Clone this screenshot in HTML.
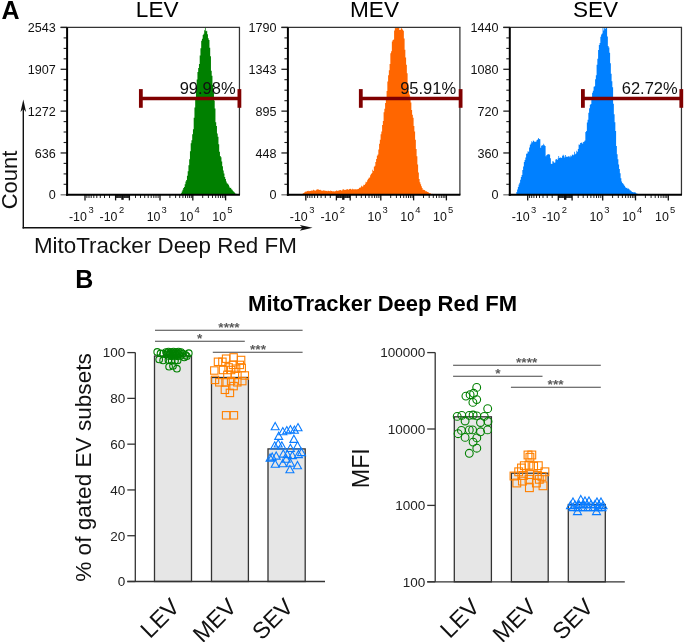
<!DOCTYPE html>
<html><head><meta charset="utf-8"><style>
html,body{margin:0;padding:0;background:#fff;}
svg{display:block;will-change:transform;}
</style></head><body>
<svg width="685" height="642" viewBox="0 0 685 642" font-family="&quot;Liberation Sans&quot;, sans-serif">
<rect width="685" height="642" fill="#fff"/>
<text x="1.5" y="19.3" font-size="25" font-weight="bold" fill="#000">A</text>
<text x="157.2" y="17" font-size="22.6" text-anchor="middle" fill="#000">LEV</text>
<path d="M180.20,194.8 V194.35 H180.95 V193.26 H181.70 V191.56 H182.45 V189.73 H183.20 V188.02 H183.95 V186.97 H184.70 V184.25 H185.45 V181.42 H186.20 V179.89 H186.95 V175.72 H187.70 V171.25 H188.45 V165.14 H189.20 V159.18 H189.95 V151.18 H190.70 V143.34 H191.45 V140.27 H192.20 V134.23 H192.95 V129.25 H193.70 V117.84 H194.45 V107.62 H195.20 V100.00 H195.95 V88.23 H196.70 V79.51 H197.45 V71.99 H198.20 V68.11 H198.95 V63.89 H199.70 V55.55 H200.45 V48.22 H201.20 V40.66 H201.95 V38.85 H202.70 V35.11 H203.45 V33.79 H204.20 V30.31 H204.95 V27.60 H205.70 V31.37 H206.45 V30.87 H207.20 V34.29 H207.95 V38.15 H208.70 V39.93 H209.45 V47.67 H210.20 V56.17 H210.95 V70.73 H211.70 V75.82 H212.45 V85.11 H213.20 V92.88 H213.95 V100.49 H214.70 V108.58 H215.45 V122.18 H216.20 V126.04 H216.95 V133.42 H217.70 V136.84 H218.45 V144.15 H219.20 V151.78 H219.95 V156.02 H220.70 V157.25 H221.45 V161.41 H222.20 V166.36 H222.95 V170.48 H223.70 V173.46 H224.45 V177.02 H225.20 V178.89 H225.95 V181.42 H226.70 V183.21 H227.45 V183.81 H228.20 V184.81 H228.95 V186.40 H229.70 V187.97 H230.45 V187.73 H231.20 V189.29 H231.95 V189.81 H232.70 V190.98 H233.45 V191.80 H234.20 V192.56 H234.95 V193.40 H235.70 V193.65 H236.45 V194.27 H237.20 V194.57 H237.90 V194.8 Z" fill="#008000"/>
<line x1="60.599999999999994" y1="27.45" x2="240.04999999999998" y2="27.45" stroke="#333" stroke-width="1.25"/>
<line x1="239.45" y1="27.45" x2="239.45" y2="194.8" stroke="#333" stroke-width="1.25"/>
<line x1="60.599999999999994" y1="27.45" x2="67.1" y2="27.45" stroke="#222" stroke-width="1.3"/>
<text x="55.8" y="31.9" font-size="12.6" text-anchor="end" fill="#111">2543</text>
<line x1="63.599999999999994" y1="37.9" x2="67.1" y2="37.9" stroke="#222" stroke-width="1.1"/>
<line x1="63.599999999999994" y1="48.4" x2="67.1" y2="48.4" stroke="#222" stroke-width="1.1"/>
<line x1="63.599999999999994" y1="58.8" x2="67.1" y2="58.8" stroke="#222" stroke-width="1.1"/>
<line x1="60.599999999999994" y1="69.29" x2="67.1" y2="69.29" stroke="#222" stroke-width="1.3"/>
<text x="55.8" y="73.8" font-size="12.6" text-anchor="end" fill="#111">1907</text>
<line x1="63.599999999999994" y1="79.7" x2="67.1" y2="79.7" stroke="#222" stroke-width="1.1"/>
<line x1="63.599999999999994" y1="90.2" x2="67.1" y2="90.2" stroke="#222" stroke-width="1.1"/>
<line x1="63.599999999999994" y1="100.7" x2="67.1" y2="100.7" stroke="#222" stroke-width="1.1"/>
<line x1="60.599999999999994" y1="111.13" x2="67.1" y2="111.13" stroke="#222" stroke-width="1.3"/>
<text x="55.8" y="115.6" font-size="12.6" text-anchor="end" fill="#111">1272</text>
<line x1="63.599999999999994" y1="121.6" x2="67.1" y2="121.6" stroke="#222" stroke-width="1.1"/>
<line x1="63.599999999999994" y1="132.0" x2="67.1" y2="132.0" stroke="#222" stroke-width="1.1"/>
<line x1="63.599999999999994" y1="142.5" x2="67.1" y2="142.5" stroke="#222" stroke-width="1.1"/>
<line x1="60.599999999999994" y1="152.96" x2="67.1" y2="152.96" stroke="#222" stroke-width="1.3"/>
<text x="55.8" y="157.5" font-size="12.6" text-anchor="end" fill="#111">636</text>
<line x1="63.599999999999994" y1="163.4" x2="67.1" y2="163.4" stroke="#222" stroke-width="1.1"/>
<line x1="63.599999999999994" y1="173.9" x2="67.1" y2="173.9" stroke="#222" stroke-width="1.1"/>
<line x1="63.599999999999994" y1="184.3" x2="67.1" y2="184.3" stroke="#222" stroke-width="1.1"/>
<line x1="60.599999999999994" y1="194.80" x2="67.1" y2="194.80" stroke="#777" stroke-width="1.3"/>
<text x="55.8" y="199.3" font-size="12.6" text-anchor="end" fill="#111">0</text>
<line x1="109.5" y1="194.8" x2="109.5" y2="198.0" stroke="#222" stroke-width="1"/>
<line x1="104.5" y1="194.8" x2="104.5" y2="198.0" stroke="#222" stroke-width="1"/>
<line x1="100.3" y1="194.8" x2="100.3" y2="198.0" stroke="#222" stroke-width="1"/>
<line x1="96.8" y1="194.8" x2="96.8" y2="198.0" stroke="#222" stroke-width="1"/>
<line x1="93.8" y1="194.8" x2="93.8" y2="198.0" stroke="#222" stroke-width="1"/>
<line x1="91.2" y1="194.8" x2="91.2" y2="198.0" stroke="#222" stroke-width="1"/>
<line x1="89.0" y1="194.8" x2="89.0" y2="198.0" stroke="#222" stroke-width="1"/>
<line x1="86.9" y1="194.8" x2="86.9" y2="198.0" stroke="#222" stroke-width="1"/>
<line x1="135.5" y1="194.8" x2="135.5" y2="198.0" stroke="#222" stroke-width="1"/>
<line x1="140.5" y1="194.8" x2="140.5" y2="198.0" stroke="#222" stroke-width="1"/>
<line x1="144.7" y1="194.8" x2="144.7" y2="198.0" stroke="#222" stroke-width="1"/>
<line x1="148.2" y1="194.8" x2="148.2" y2="198.0" stroke="#222" stroke-width="1"/>
<line x1="151.2" y1="194.8" x2="151.2" y2="198.0" stroke="#222" stroke-width="1"/>
<line x1="153.8" y1="194.8" x2="153.8" y2="198.0" stroke="#222" stroke-width="1"/>
<line x1="156.0" y1="194.8" x2="156.0" y2="198.0" stroke="#222" stroke-width="1"/>
<line x1="158.1" y1="194.8" x2="158.1" y2="198.0" stroke="#222" stroke-width="1"/>
<line x1="169.9" y1="194.8" x2="169.9" y2="198.0" stroke="#222" stroke-width="1"/>
<line x1="175.6" y1="194.8" x2="175.6" y2="198.0" stroke="#222" stroke-width="1"/>
<line x1="179.7" y1="194.8" x2="179.7" y2="198.0" stroke="#222" stroke-width="1"/>
<line x1="182.9" y1="194.8" x2="182.9" y2="198.0" stroke="#222" stroke-width="1"/>
<line x1="185.5" y1="194.8" x2="185.5" y2="198.0" stroke="#222" stroke-width="1"/>
<line x1="187.7" y1="194.8" x2="187.7" y2="198.0" stroke="#222" stroke-width="1"/>
<line x1="189.6" y1="194.8" x2="189.6" y2="198.0" stroke="#222" stroke-width="1"/>
<line x1="191.3" y1="194.8" x2="191.3" y2="198.0" stroke="#222" stroke-width="1"/>
<line x1="202.7" y1="194.8" x2="202.7" y2="198.0" stroke="#222" stroke-width="1"/>
<line x1="208.4" y1="194.8" x2="208.4" y2="198.0" stroke="#222" stroke-width="1"/>
<line x1="212.5" y1="194.8" x2="212.5" y2="198.0" stroke="#222" stroke-width="1"/>
<line x1="215.7" y1="194.8" x2="215.7" y2="198.0" stroke="#222" stroke-width="1"/>
<line x1="218.3" y1="194.8" x2="218.3" y2="198.0" stroke="#222" stroke-width="1"/>
<line x1="220.5" y1="194.8" x2="220.5" y2="198.0" stroke="#222" stroke-width="1"/>
<line x1="222.4" y1="194.8" x2="222.4" y2="198.0" stroke="#222" stroke-width="1"/>
<line x1="224.1" y1="194.8" x2="224.1" y2="198.0" stroke="#222" stroke-width="1"/>
<line x1="121.1" y1="194.8" x2="121.1" y2="198.0" stroke="#222" stroke-width="1"/>
<line x1="120.4" y1="194.8" x2="120.4" y2="198.0" stroke="#222" stroke-width="1"/>
<line x1="119.7" y1="194.8" x2="119.7" y2="198.0" stroke="#222" stroke-width="1"/>
<line x1="119.0" y1="194.8" x2="119.0" y2="198.0" stroke="#222" stroke-width="1"/>
<line x1="118.3" y1="194.8" x2="118.3" y2="198.0" stroke="#222" stroke-width="1"/>
<line x1="117.6" y1="194.8" x2="117.6" y2="198.0" stroke="#222" stroke-width="1"/>
<line x1="116.9" y1="194.8" x2="116.9" y2="198.0" stroke="#222" stroke-width="1"/>
<line x1="116.3" y1="194.8" x2="116.3" y2="198.0" stroke="#222" stroke-width="1"/>
<line x1="123.9" y1="194.8" x2="123.9" y2="198.0" stroke="#222" stroke-width="1"/>
<line x1="124.6" y1="194.8" x2="124.6" y2="198.0" stroke="#222" stroke-width="1"/>
<line x1="125.3" y1="194.8" x2="125.3" y2="198.0" stroke="#222" stroke-width="1"/>
<line x1="126.0" y1="194.8" x2="126.0" y2="198.0" stroke="#222" stroke-width="1"/>
<line x1="126.7" y1="194.8" x2="126.7" y2="198.0" stroke="#222" stroke-width="1"/>
<line x1="127.4" y1="194.8" x2="127.4" y2="198.0" stroke="#222" stroke-width="1"/>
<line x1="128.1" y1="194.8" x2="128.1" y2="198.0" stroke="#222" stroke-width="1"/>
<line x1="128.7" y1="194.8" x2="128.7" y2="198.0" stroke="#222" stroke-width="1"/>
<line x1="85.0" y1="194.8" x2="85.0" y2="200.4" stroke="#111" stroke-width="1.3"/>
<line x1="115.6" y1="194.8" x2="115.6" y2="200.4" stroke="#111" stroke-width="1.3"/>
<line x1="122.5" y1="194.8" x2="122.5" y2="199.8" stroke="#111" stroke-width="2.4"/>
<line x1="129.4" y1="194.8" x2="129.4" y2="200.4" stroke="#111" stroke-width="1.3"/>
<line x1="160.0" y1="194.8" x2="160.0" y2="200.4" stroke="#111" stroke-width="1.3"/>
<line x1="192.8" y1="194.8" x2="192.8" y2="200.4" stroke="#111" stroke-width="1.3"/>
<line x1="225.6" y1="194.8" x2="225.6" y2="200.4" stroke="#111" stroke-width="1.3"/>
<text x="86.9" y="221.4" font-size="12.4" text-anchor="end" fill="#111">-10</text>
<text x="88.4" y="212.9" font-size="9.4" fill="#111">3</text>
<text x="117.5" y="221.4" font-size="12.4" text-anchor="end" fill="#111">-10</text>
<text x="119.0" y="212.9" font-size="9.4" fill="#111">2</text>
<text x="160.5" y="221.4" font-size="12.4" text-anchor="end" fill="#111">10</text>
<text x="161.6" y="212.9" font-size="9.4" fill="#111">3</text>
<text x="193.3" y="221.4" font-size="12.4" text-anchor="end" fill="#111">10</text>
<text x="194.4" y="212.9" font-size="9.4" fill="#111">4</text>
<text x="226.1" y="221.4" font-size="12.4" text-anchor="end" fill="#111">10</text>
<text x="227.2" y="212.9" font-size="9.4" fill="#111">5</text>
<line x1="67.1" y1="27.45" x2="67.1" y2="195.8" stroke="#000" stroke-width="2"/>
<line x1="66.1" y1="194.8" x2="239.95" y2="194.8" stroke="#000" stroke-width="2"/>
<line x1="140.85" y1="98.5" x2="239.4" y2="98.5" stroke="#800000" stroke-width="3.6"/>
<line x1="140.85" y1="89.1" x2="140.85" y2="107.8" stroke="#800000" stroke-width="3.8"/>
<line x1="239.4" y1="89.1" x2="239.4" y2="107.8" stroke="#800000" stroke-width="3.8"/>
<text x="235.6" y="94.3" font-size="16.5" text-anchor="end" fill="#111">99.98%</text>
<text x="374.5" y="17" font-size="22.6" text-anchor="middle" fill="#000">MEV</text>
<path d="M302.60,194.8 V193.40 H303.35 V193.04 H304.10 V192.38 H304.85 V191.82 H305.60 V191.39 H306.35 V191.41 H307.10 V190.96 H307.85 V190.71 H308.60 V191.13 H309.35 V191.00 H310.10 V191.03 H310.85 V190.42 H311.60 V190.63 H312.35 V190.50 H313.10 V189.87 H313.85 V190.49 H314.60 V190.29 H315.35 V190.76 H316.10 V189.63 H316.85 V189.18 H317.60 V189.57 H318.35 V189.42 H319.10 V189.96 H319.85 V189.75 H320.60 V190.24 H321.35 V190.80 H322.10 V190.78 H322.85 V190.62 H323.60 V190.24 H324.35 V190.81 H325.10 V190.72 H325.85 V190.98 H326.60 V190.85 H327.35 V191.19 H328.10 V190.84 H328.85 V190.97 H329.60 V191.16 H330.35 V190.62 H331.10 V190.89 H331.85 V190.90 H332.60 V191.75 H333.35 V191.12 H334.10 V191.40 H334.85 V191.31 H335.60 V190.89 H336.35 V190.33 H337.10 V191.06 H337.85 V190.46 H338.60 V190.73 H339.35 V189.88 H340.10 V190.06 H340.85 V190.58 H341.60 V190.56 H342.35 V189.45 H343.10 V189.34 H343.85 V189.74 H344.60 V189.94 H345.35 V189.63 H346.10 V189.59 H346.85 V188.99 H347.60 V189.52 H348.35 V189.65 H349.10 V189.06 H349.85 V188.70 H350.60 V189.01 H351.35 V189.65 H352.10 V188.69 H352.85 V189.38 H353.60 V189.06 H354.35 V189.44 H355.10 V189.28 H355.85 V189.19 H356.60 V189.61 H357.35 V188.97 H358.10 V189.08 H358.85 V188.09 H359.60 V187.57 H360.35 V187.59 H361.10 V185.71 H361.85 V186.66 H362.60 V186.30 H363.35 V184.83 H364.10 V184.98 H364.85 V183.66 H365.60 V181.80 H366.35 V182.32 H367.10 V180.30 H367.85 V179.04 H368.60 V177.74 H369.35 V177.44 H370.10 V175.30 H370.85 V173.88 H371.60 V172.91 H372.35 V169.79 H373.10 V170.93 H373.85 V166.67 H374.60 V165.78 H375.35 V162.05 H376.10 V158.93 H376.85 V155.72 H377.60 V154.46 H378.35 V149.39 H379.10 V143.81 H379.85 V139.84 H380.60 V134.36 H381.35 V131.49 H382.10 V125.06 H382.85 V121.12 H383.60 V112.34 H384.35 V108.80 H385.10 V102.88 H385.85 V97.35 H386.60 V91.11 H387.35 V81.41 H388.10 V75.18 H388.85 V70.19 H389.60 V64.11 H390.35 V53.28 H391.10 V51.29 H391.85 V41.50 H392.60 V40.03 H393.35 V39.41 H394.10 V30.58 H394.85 V27.30 H395.60 V28.28 H396.35 V27.87 H397.10 V27.81 H397.85 V27.30 H398.60 V27.60 H399.35 V30.12 H400.10 V29.84 H400.85 V27.56 H401.60 V28.86 H402.35 V29.76 H403.10 V30.72 H403.85 V38.59 H404.60 V49.68 H405.35 V57.43 H406.10 V64.69 H406.85 V73.33 H407.60 V83.59 H408.35 V90.96 H409.10 V94.48 H409.85 V96.81 H410.60 V102.45 H411.35 V109.91 H412.10 V114.67 H412.85 V117.74 H413.60 V125.95 H414.35 V131.51 H415.10 V139.83 H415.85 V149.11 H416.60 V156.23 H417.35 V164.51 H418.10 V172.39 H418.85 V178.89 H419.60 V182.21 H420.35 V184.16 H421.10 V186.20 H421.85 V187.92 H422.60 V189.76 H423.35 V189.72 H424.10 V189.98 H424.85 V190.85 H425.60 V191.60 H426.35 V191.19 H427.10 V192.12 H427.85 V192.10 H428.60 V192.96 H429.35 V193.19 H430.10 V193.36 H430.85 V193.96 H431.60 V193.80 H432.35 V194.07 H433.10 V194.63 H433.85 V194.69 H434.40 V194.8 Z" fill="#ff6600"/>
<line x1="281.4" y1="27.45" x2="460.5" y2="27.45" stroke="#333" stroke-width="1.25"/>
<line x1="459.9" y1="27.45" x2="459.9" y2="194.8" stroke="#333" stroke-width="1.25"/>
<line x1="281.4" y1="27.45" x2="287.9" y2="27.45" stroke="#222" stroke-width="1.3"/>
<text x="276.59999999999997" y="31.9" font-size="12.6" text-anchor="end" fill="#111">1790</text>
<line x1="284.4" y1="37.9" x2="287.9" y2="37.9" stroke="#222" stroke-width="1.1"/>
<line x1="284.4" y1="48.4" x2="287.9" y2="48.4" stroke="#222" stroke-width="1.1"/>
<line x1="284.4" y1="58.8" x2="287.9" y2="58.8" stroke="#222" stroke-width="1.1"/>
<line x1="281.4" y1="69.29" x2="287.9" y2="69.29" stroke="#222" stroke-width="1.3"/>
<text x="276.59999999999997" y="73.8" font-size="12.6" text-anchor="end" fill="#111">1343</text>
<line x1="284.4" y1="79.7" x2="287.9" y2="79.7" stroke="#222" stroke-width="1.1"/>
<line x1="284.4" y1="90.2" x2="287.9" y2="90.2" stroke="#222" stroke-width="1.1"/>
<line x1="284.4" y1="100.7" x2="287.9" y2="100.7" stroke="#222" stroke-width="1.1"/>
<line x1="281.4" y1="111.13" x2="287.9" y2="111.13" stroke="#222" stroke-width="1.3"/>
<text x="276.59999999999997" y="115.6" font-size="12.6" text-anchor="end" fill="#111">895</text>
<line x1="284.4" y1="121.6" x2="287.9" y2="121.6" stroke="#222" stroke-width="1.1"/>
<line x1="284.4" y1="132.0" x2="287.9" y2="132.0" stroke="#222" stroke-width="1.1"/>
<line x1="284.4" y1="142.5" x2="287.9" y2="142.5" stroke="#222" stroke-width="1.1"/>
<line x1="281.4" y1="152.96" x2="287.9" y2="152.96" stroke="#222" stroke-width="1.3"/>
<text x="276.59999999999997" y="157.5" font-size="12.6" text-anchor="end" fill="#111">448</text>
<line x1="284.4" y1="163.4" x2="287.9" y2="163.4" stroke="#222" stroke-width="1.1"/>
<line x1="284.4" y1="173.9" x2="287.9" y2="173.9" stroke="#222" stroke-width="1.1"/>
<line x1="284.4" y1="184.3" x2="287.9" y2="184.3" stroke="#222" stroke-width="1.1"/>
<line x1="281.4" y1="194.80" x2="287.9" y2="194.80" stroke="#777" stroke-width="1.3"/>
<text x="276.59999999999997" y="199.3" font-size="12.6" text-anchor="end" fill="#111">0</text>
<line x1="330.3" y1="194.8" x2="330.3" y2="198.0" stroke="#222" stroke-width="1"/>
<line x1="325.3" y1="194.8" x2="325.3" y2="198.0" stroke="#222" stroke-width="1"/>
<line x1="321.1" y1="194.8" x2="321.1" y2="198.0" stroke="#222" stroke-width="1"/>
<line x1="317.6" y1="194.8" x2="317.6" y2="198.0" stroke="#222" stroke-width="1"/>
<line x1="314.6" y1="194.8" x2="314.6" y2="198.0" stroke="#222" stroke-width="1"/>
<line x1="312.0" y1="194.8" x2="312.0" y2="198.0" stroke="#222" stroke-width="1"/>
<line x1="309.8" y1="194.8" x2="309.8" y2="198.0" stroke="#222" stroke-width="1"/>
<line x1="307.7" y1="194.8" x2="307.7" y2="198.0" stroke="#222" stroke-width="1"/>
<line x1="356.3" y1="194.8" x2="356.3" y2="198.0" stroke="#222" stroke-width="1"/>
<line x1="361.3" y1="194.8" x2="361.3" y2="198.0" stroke="#222" stroke-width="1"/>
<line x1="365.5" y1="194.8" x2="365.5" y2="198.0" stroke="#222" stroke-width="1"/>
<line x1="369.0" y1="194.8" x2="369.0" y2="198.0" stroke="#222" stroke-width="1"/>
<line x1="372.0" y1="194.8" x2="372.0" y2="198.0" stroke="#222" stroke-width="1"/>
<line x1="374.6" y1="194.8" x2="374.6" y2="198.0" stroke="#222" stroke-width="1"/>
<line x1="376.8" y1="194.8" x2="376.8" y2="198.0" stroke="#222" stroke-width="1"/>
<line x1="378.9" y1="194.8" x2="378.9" y2="198.0" stroke="#222" stroke-width="1"/>
<line x1="390.7" y1="194.8" x2="390.7" y2="198.0" stroke="#222" stroke-width="1"/>
<line x1="396.4" y1="194.8" x2="396.4" y2="198.0" stroke="#222" stroke-width="1"/>
<line x1="400.5" y1="194.8" x2="400.5" y2="198.0" stroke="#222" stroke-width="1"/>
<line x1="403.7" y1="194.8" x2="403.7" y2="198.0" stroke="#222" stroke-width="1"/>
<line x1="406.3" y1="194.8" x2="406.3" y2="198.0" stroke="#222" stroke-width="1"/>
<line x1="408.5" y1="194.8" x2="408.5" y2="198.0" stroke="#222" stroke-width="1"/>
<line x1="410.4" y1="194.8" x2="410.4" y2="198.0" stroke="#222" stroke-width="1"/>
<line x1="412.1" y1="194.8" x2="412.1" y2="198.0" stroke="#222" stroke-width="1"/>
<line x1="423.5" y1="194.8" x2="423.5" y2="198.0" stroke="#222" stroke-width="1"/>
<line x1="429.2" y1="194.8" x2="429.2" y2="198.0" stroke="#222" stroke-width="1"/>
<line x1="433.3" y1="194.8" x2="433.3" y2="198.0" stroke="#222" stroke-width="1"/>
<line x1="436.5" y1="194.8" x2="436.5" y2="198.0" stroke="#222" stroke-width="1"/>
<line x1="439.1" y1="194.8" x2="439.1" y2="198.0" stroke="#222" stroke-width="1"/>
<line x1="441.3" y1="194.8" x2="441.3" y2="198.0" stroke="#222" stroke-width="1"/>
<line x1="443.2" y1="194.8" x2="443.2" y2="198.0" stroke="#222" stroke-width="1"/>
<line x1="444.9" y1="194.8" x2="444.9" y2="198.0" stroke="#222" stroke-width="1"/>
<line x1="341.9" y1="194.8" x2="341.9" y2="198.0" stroke="#222" stroke-width="1"/>
<line x1="341.2" y1="194.8" x2="341.2" y2="198.0" stroke="#222" stroke-width="1"/>
<line x1="340.5" y1="194.8" x2="340.5" y2="198.0" stroke="#222" stroke-width="1"/>
<line x1="339.8" y1="194.8" x2="339.8" y2="198.0" stroke="#222" stroke-width="1"/>
<line x1="339.1" y1="194.8" x2="339.1" y2="198.0" stroke="#222" stroke-width="1"/>
<line x1="338.4" y1="194.8" x2="338.4" y2="198.0" stroke="#222" stroke-width="1"/>
<line x1="337.7" y1="194.8" x2="337.7" y2="198.0" stroke="#222" stroke-width="1"/>
<line x1="337.1" y1="194.8" x2="337.1" y2="198.0" stroke="#222" stroke-width="1"/>
<line x1="344.7" y1="194.8" x2="344.7" y2="198.0" stroke="#222" stroke-width="1"/>
<line x1="345.4" y1="194.8" x2="345.4" y2="198.0" stroke="#222" stroke-width="1"/>
<line x1="346.1" y1="194.8" x2="346.1" y2="198.0" stroke="#222" stroke-width="1"/>
<line x1="346.8" y1="194.8" x2="346.8" y2="198.0" stroke="#222" stroke-width="1"/>
<line x1="347.5" y1="194.8" x2="347.5" y2="198.0" stroke="#222" stroke-width="1"/>
<line x1="348.2" y1="194.8" x2="348.2" y2="198.0" stroke="#222" stroke-width="1"/>
<line x1="348.9" y1="194.8" x2="348.9" y2="198.0" stroke="#222" stroke-width="1"/>
<line x1="349.5" y1="194.8" x2="349.5" y2="198.0" stroke="#222" stroke-width="1"/>
<line x1="305.8" y1="194.8" x2="305.8" y2="200.4" stroke="#111" stroke-width="1.3"/>
<line x1="336.4" y1="194.8" x2="336.4" y2="200.4" stroke="#111" stroke-width="1.3"/>
<line x1="343.3" y1="194.8" x2="343.3" y2="199.8" stroke="#111" stroke-width="2.4"/>
<line x1="350.2" y1="194.8" x2="350.2" y2="200.4" stroke="#111" stroke-width="1.3"/>
<line x1="380.8" y1="194.8" x2="380.8" y2="200.4" stroke="#111" stroke-width="1.3"/>
<line x1="413.6" y1="194.8" x2="413.6" y2="200.4" stroke="#111" stroke-width="1.3"/>
<line x1="446.4" y1="194.8" x2="446.4" y2="200.4" stroke="#111" stroke-width="1.3"/>
<text x="307.7" y="221.4" font-size="12.4" text-anchor="end" fill="#111">-10</text>
<text x="309.2" y="212.9" font-size="9.4" fill="#111">3</text>
<text x="338.3" y="221.4" font-size="12.4" text-anchor="end" fill="#111">-10</text>
<text x="339.8" y="212.9" font-size="9.4" fill="#111">2</text>
<text x="381.3" y="221.4" font-size="12.4" text-anchor="end" fill="#111">10</text>
<text x="382.4" y="212.9" font-size="9.4" fill="#111">3</text>
<text x="414.1" y="221.4" font-size="12.4" text-anchor="end" fill="#111">10</text>
<text x="415.2" y="212.9" font-size="9.4" fill="#111">4</text>
<text x="446.9" y="221.4" font-size="12.4" text-anchor="end" fill="#111">10</text>
<text x="448.0" y="212.9" font-size="9.4" fill="#111">5</text>
<line x1="287.9" y1="27.45" x2="287.9" y2="195.8" stroke="#000" stroke-width="2"/>
<line x1="286.9" y1="194.8" x2="460.4" y2="194.8" stroke="#000" stroke-width="2"/>
<line x1="360.8" y1="98.5" x2="460.6" y2="98.5" stroke="#800000" stroke-width="3.6"/>
<line x1="360.8" y1="89.1" x2="360.8" y2="107.8" stroke="#800000" stroke-width="3.8"/>
<line x1="460.6" y1="89.1" x2="460.6" y2="107.8" stroke="#800000" stroke-width="3.8"/>
<text x="456.1" y="94.3" font-size="16.5" text-anchor="end" fill="#111">95.91%</text>
<text x="595.6" y="17" font-size="22.6" text-anchor="middle" fill="#000">SEV</text>
<path d="M515.60,194.8 V193.96 H516.35 V192.05 H517.10 V189.50 H517.85 V186.99 H518.60 V184.54 H519.35 V182.75 H520.10 V179.67 H520.85 V176.93 H521.60 V175.08 H522.35 V170.02 H523.10 V166.42 H523.85 V162.08 H524.60 V160.00 H525.35 V157.57 H526.10 V153.68 H526.85 V153.54 H527.60 V151.33 H528.35 V151.86 H529.10 V147.49 H529.85 V144.78 H530.60 V143.59 H531.35 V141.36 H532.10 V142.13 H532.85 V140.42 H533.60 V141.02 H534.35 V141.91 H535.10 V141.83 H535.85 V141.60 H536.60 V139.90 H537.35 V139.44 H538.10 V138.10 H538.85 V138.92 H539.60 V139.37 H540.35 V147.86 H541.10 V145.76 H541.85 V145.32 H542.60 V145.13 H543.35 V143.72 H544.10 V145.30 H544.85 V145.93 H545.60 V156.31 H546.35 V154.98 H547.10 V154.57 H547.85 V154.07 H548.60 V154.41 H549.35 V154.39 H550.10 V158.36 H550.85 V163.69 H551.60 V164.01 H552.35 V161.32 H553.10 V161.40 H553.85 V162.64 H554.60 V162.46 H555.35 V159.40 H556.10 V159.01 H556.85 V159.94 H557.60 V158.59 H558.35 V156.08 H559.10 V158.10 H559.85 V157.16 H560.60 V158.03 H561.35 V157.85 H562.10 V155.69 H562.85 V154.83 H563.60 V155.74 H564.35 V157.53 H565.10 V155.11 H565.85 V157.02 H566.60 V156.28 H567.35 V156.98 H568.10 V156.37 H568.85 V156.15 H569.60 V157.24 H570.35 V155.60 H571.10 V156.33 H571.85 V154.75 H572.60 V154.39 H573.35 V155.31 H574.10 V151.85 H574.85 V154.25 H575.60 V153.41 H576.35 V150.80 H577.10 V151.63 H577.85 V148.90 H578.60 V144.45 H579.35 V144.87 H580.10 V143.04 H580.85 V142.84 H581.60 V142.54 H582.35 V143.74 H583.10 V141.96 H583.85 V141.44 H584.60 V140.42 H585.35 V132.10 H586.10 V130.88 H586.85 V122.38 H587.60 V119.67 H588.35 V112.74 H589.10 V108.37 H589.85 V104.72 H590.60 V104.02 H591.35 V97.62 H592.10 V92.72 H592.85 V90.76 H593.60 V86.73 H594.35 V86.19 H595.10 V79.25 H595.85 V75.31 H596.60 V64.67 H597.35 V58.81 H598.10 V49.95 H598.85 V45.04 H599.60 V42.98 H600.35 V36.72 H601.10 V34.42 H601.85 V33.46 H602.60 V27.90 H603.35 V30.42 H604.10 V27.30 H604.85 V29.08 H605.60 V27.90 H606.35 V28.09 H607.10 V36.58 H607.85 V46.10 H608.60 V47.43 H609.35 V52.84 H610.10 V63.29 H610.85 V73.77 H611.60 V81.20 H612.35 V87.23 H613.10 V103.67 H613.85 V114.29 H614.60 V122.37 H615.35 V131.03 H616.10 V146.05 H616.85 V154.21 H617.60 V159.15 H618.35 V164.44 H619.10 V168.99 H619.85 V173.35 H620.60 V178.16 H621.35 V181.48 H622.10 V182.89 H622.85 V183.85 H623.60 V184.68 H624.35 V185.91 H625.10 V187.34 H625.85 V187.92 H626.60 V187.76 H627.35 V188.68 H628.10 V188.58 H628.85 V189.19 H629.60 V190.17 H630.35 V190.57 H631.10 V191.35 H631.85 V191.88 H632.60 V192.06 H633.35 V192.46 H634.10 V192.22 H634.85 V192.36 H635.60 V193.03 H636.35 V193.77 H637.10 V193.66 H637.85 V194.27 H638.60 V194.8 Z" fill="#0080ff"/>
<line x1="503.3" y1="27.45" x2="682.0500000000001" y2="27.45" stroke="#333" stroke-width="1.25"/>
<line x1="681.45" y1="27.45" x2="681.45" y2="194.8" stroke="#333" stroke-width="1.25"/>
<line x1="503.3" y1="27.45" x2="509.8" y2="27.45" stroke="#222" stroke-width="1.3"/>
<text x="498.5" y="31.9" font-size="12.6" text-anchor="end" fill="#111">1440</text>
<line x1="506.3" y1="37.9" x2="509.8" y2="37.9" stroke="#222" stroke-width="1.1"/>
<line x1="506.3" y1="48.4" x2="509.8" y2="48.4" stroke="#222" stroke-width="1.1"/>
<line x1="506.3" y1="58.8" x2="509.8" y2="58.8" stroke="#222" stroke-width="1.1"/>
<line x1="503.3" y1="69.29" x2="509.8" y2="69.29" stroke="#222" stroke-width="1.3"/>
<text x="498.5" y="73.8" font-size="12.6" text-anchor="end" fill="#111">1080</text>
<line x1="506.3" y1="79.7" x2="509.8" y2="79.7" stroke="#222" stroke-width="1.1"/>
<line x1="506.3" y1="90.2" x2="509.8" y2="90.2" stroke="#222" stroke-width="1.1"/>
<line x1="506.3" y1="100.7" x2="509.8" y2="100.7" stroke="#222" stroke-width="1.1"/>
<line x1="503.3" y1="111.13" x2="509.8" y2="111.13" stroke="#222" stroke-width="1.3"/>
<text x="498.5" y="115.6" font-size="12.6" text-anchor="end" fill="#111">720</text>
<line x1="506.3" y1="121.6" x2="509.8" y2="121.6" stroke="#222" stroke-width="1.1"/>
<line x1="506.3" y1="132.0" x2="509.8" y2="132.0" stroke="#222" stroke-width="1.1"/>
<line x1="506.3" y1="142.5" x2="509.8" y2="142.5" stroke="#222" stroke-width="1.1"/>
<line x1="503.3" y1="152.96" x2="509.8" y2="152.96" stroke="#222" stroke-width="1.3"/>
<text x="498.5" y="157.5" font-size="12.6" text-anchor="end" fill="#111">360</text>
<line x1="506.3" y1="163.4" x2="509.8" y2="163.4" stroke="#222" stroke-width="1.1"/>
<line x1="506.3" y1="173.9" x2="509.8" y2="173.9" stroke="#222" stroke-width="1.1"/>
<line x1="506.3" y1="184.3" x2="509.8" y2="184.3" stroke="#222" stroke-width="1.1"/>
<line x1="503.3" y1="194.80" x2="509.8" y2="194.80" stroke="#777" stroke-width="1.3"/>
<text x="498.5" y="199.3" font-size="12.6" text-anchor="end" fill="#111">0</text>
<line x1="552.2" y1="194.8" x2="552.2" y2="198.0" stroke="#222" stroke-width="1"/>
<line x1="547.2" y1="194.8" x2="547.2" y2="198.0" stroke="#222" stroke-width="1"/>
<line x1="543.0" y1="194.8" x2="543.0" y2="198.0" stroke="#222" stroke-width="1"/>
<line x1="539.5" y1="194.8" x2="539.5" y2="198.0" stroke="#222" stroke-width="1"/>
<line x1="536.5" y1="194.8" x2="536.5" y2="198.0" stroke="#222" stroke-width="1"/>
<line x1="533.9" y1="194.8" x2="533.9" y2="198.0" stroke="#222" stroke-width="1"/>
<line x1="531.7" y1="194.8" x2="531.7" y2="198.0" stroke="#222" stroke-width="1"/>
<line x1="529.6" y1="194.8" x2="529.6" y2="198.0" stroke="#222" stroke-width="1"/>
<line x1="578.2" y1="194.8" x2="578.2" y2="198.0" stroke="#222" stroke-width="1"/>
<line x1="583.2" y1="194.8" x2="583.2" y2="198.0" stroke="#222" stroke-width="1"/>
<line x1="587.4" y1="194.8" x2="587.4" y2="198.0" stroke="#222" stroke-width="1"/>
<line x1="590.9" y1="194.8" x2="590.9" y2="198.0" stroke="#222" stroke-width="1"/>
<line x1="593.9" y1="194.8" x2="593.9" y2="198.0" stroke="#222" stroke-width="1"/>
<line x1="596.5" y1="194.8" x2="596.5" y2="198.0" stroke="#222" stroke-width="1"/>
<line x1="598.7" y1="194.8" x2="598.7" y2="198.0" stroke="#222" stroke-width="1"/>
<line x1="600.8" y1="194.8" x2="600.8" y2="198.0" stroke="#222" stroke-width="1"/>
<line x1="612.6" y1="194.8" x2="612.6" y2="198.0" stroke="#222" stroke-width="1"/>
<line x1="618.3" y1="194.8" x2="618.3" y2="198.0" stroke="#222" stroke-width="1"/>
<line x1="622.4" y1="194.8" x2="622.4" y2="198.0" stroke="#222" stroke-width="1"/>
<line x1="625.6" y1="194.8" x2="625.6" y2="198.0" stroke="#222" stroke-width="1"/>
<line x1="628.2" y1="194.8" x2="628.2" y2="198.0" stroke="#222" stroke-width="1"/>
<line x1="630.4" y1="194.8" x2="630.4" y2="198.0" stroke="#222" stroke-width="1"/>
<line x1="632.3" y1="194.8" x2="632.3" y2="198.0" stroke="#222" stroke-width="1"/>
<line x1="634.0" y1="194.8" x2="634.0" y2="198.0" stroke="#222" stroke-width="1"/>
<line x1="645.4" y1="194.8" x2="645.4" y2="198.0" stroke="#222" stroke-width="1"/>
<line x1="651.1" y1="194.8" x2="651.1" y2="198.0" stroke="#222" stroke-width="1"/>
<line x1="655.2" y1="194.8" x2="655.2" y2="198.0" stroke="#222" stroke-width="1"/>
<line x1="658.4" y1="194.8" x2="658.4" y2="198.0" stroke="#222" stroke-width="1"/>
<line x1="661.0" y1="194.8" x2="661.0" y2="198.0" stroke="#222" stroke-width="1"/>
<line x1="663.2" y1="194.8" x2="663.2" y2="198.0" stroke="#222" stroke-width="1"/>
<line x1="665.1" y1="194.8" x2="665.1" y2="198.0" stroke="#222" stroke-width="1"/>
<line x1="666.8" y1="194.8" x2="666.8" y2="198.0" stroke="#222" stroke-width="1"/>
<line x1="563.8" y1="194.8" x2="563.8" y2="198.0" stroke="#222" stroke-width="1"/>
<line x1="563.1" y1="194.8" x2="563.1" y2="198.0" stroke="#222" stroke-width="1"/>
<line x1="562.4" y1="194.8" x2="562.4" y2="198.0" stroke="#222" stroke-width="1"/>
<line x1="561.7" y1="194.8" x2="561.7" y2="198.0" stroke="#222" stroke-width="1"/>
<line x1="561.0" y1="194.8" x2="561.0" y2="198.0" stroke="#222" stroke-width="1"/>
<line x1="560.3" y1="194.8" x2="560.3" y2="198.0" stroke="#222" stroke-width="1"/>
<line x1="559.6" y1="194.8" x2="559.6" y2="198.0" stroke="#222" stroke-width="1"/>
<line x1="559.0" y1="194.8" x2="559.0" y2="198.0" stroke="#222" stroke-width="1"/>
<line x1="566.6" y1="194.8" x2="566.6" y2="198.0" stroke="#222" stroke-width="1"/>
<line x1="567.3" y1="194.8" x2="567.3" y2="198.0" stroke="#222" stroke-width="1"/>
<line x1="568.0" y1="194.8" x2="568.0" y2="198.0" stroke="#222" stroke-width="1"/>
<line x1="568.7" y1="194.8" x2="568.7" y2="198.0" stroke="#222" stroke-width="1"/>
<line x1="569.4" y1="194.8" x2="569.4" y2="198.0" stroke="#222" stroke-width="1"/>
<line x1="570.1" y1="194.8" x2="570.1" y2="198.0" stroke="#222" stroke-width="1"/>
<line x1="570.8" y1="194.8" x2="570.8" y2="198.0" stroke="#222" stroke-width="1"/>
<line x1="571.4" y1="194.8" x2="571.4" y2="198.0" stroke="#222" stroke-width="1"/>
<line x1="527.7" y1="194.8" x2="527.7" y2="200.4" stroke="#111" stroke-width="1.3"/>
<line x1="558.3" y1="194.8" x2="558.3" y2="200.4" stroke="#111" stroke-width="1.3"/>
<line x1="565.2" y1="194.8" x2="565.2" y2="199.8" stroke="#111" stroke-width="2.4"/>
<line x1="572.1" y1="194.8" x2="572.1" y2="200.4" stroke="#111" stroke-width="1.3"/>
<line x1="602.7" y1="194.8" x2="602.7" y2="200.4" stroke="#111" stroke-width="1.3"/>
<line x1="635.5" y1="194.8" x2="635.5" y2="200.4" stroke="#111" stroke-width="1.3"/>
<line x1="668.3" y1="194.8" x2="668.3" y2="200.4" stroke="#111" stroke-width="1.3"/>
<text x="529.6" y="221.4" font-size="12.4" text-anchor="end" fill="#111">-10</text>
<text x="531.1" y="212.9" font-size="9.4" fill="#111">3</text>
<text x="560.2" y="221.4" font-size="12.4" text-anchor="end" fill="#111">-10</text>
<text x="561.7" y="212.9" font-size="9.4" fill="#111">2</text>
<text x="603.2" y="221.4" font-size="12.4" text-anchor="end" fill="#111">10</text>
<text x="604.3" y="212.9" font-size="9.4" fill="#111">3</text>
<text x="636.0" y="221.4" font-size="12.4" text-anchor="end" fill="#111">10</text>
<text x="637.1" y="212.9" font-size="9.4" fill="#111">4</text>
<text x="668.8" y="221.4" font-size="12.4" text-anchor="end" fill="#111">10</text>
<text x="669.9" y="212.9" font-size="9.4" fill="#111">5</text>
<line x1="509.8" y1="27.45" x2="509.8" y2="195.8" stroke="#000" stroke-width="2"/>
<line x1="508.8" y1="194.8" x2="681.95" y2="194.8" stroke="#000" stroke-width="2"/>
<line x1="582.9" y1="98.5" x2="681.3" y2="98.5" stroke="#800000" stroke-width="3.6"/>
<line x1="582.9" y1="89.1" x2="582.9" y2="107.8" stroke="#800000" stroke-width="3.8"/>
<line x1="681.3" y1="89.1" x2="681.3" y2="107.8" stroke="#800000" stroke-width="3.8"/>
<text x="677.7" y="94.3" font-size="16.5" text-anchor="end" fill="#111">62.72%</text>
<line x1="23.3" y1="228.5" x2="23.3" y2="108" stroke="#111" stroke-width="1.4"/>
<path d="M23.3,99.6 L26.1,112 L23.3,108.8 L20.5,112 Z" fill="#111"/>
<line x1="22.6" y1="227.8" x2="304" y2="227.8" stroke="#111" stroke-width="1.5"/>
<path d="M312.6,227.8 L299.8,224.9 L302.6,227.8 L299.8,230.7 Z" fill="#111"/>
<text transform="translate(17.3,180) rotate(-90)" font-size="22" text-anchor="middle" fill="#111">Count</text>
<text x="33.9" y="252.6" font-size="22.4" fill="#111">MitoTracker Deep Red FM</text>
<text x="75.2" y="287.9" font-size="25" font-weight="bold" fill="#000">B</text>
<text x="382.6" y="310.6" font-size="22" font-weight="bold" text-anchor="middle" fill="#000">MitoTracker Deep Red FM</text>
<rect x="154.5" y="356.0" width="37.0" height="225.5" fill="#e6e6e6" stroke="#333" stroke-width="1.3"/>
<rect x="211.5" y="377.5" width="36.900000000000006" height="204.0" fill="#e6e6e6" stroke="#333" stroke-width="1.3"/>
<rect x="268.0" y="448.9" width="37.19999999999999" height="132.60000000000002" fill="#e6e6e6" stroke="#333" stroke-width="1.3"/>
<line x1="135.3" y1="352.6" x2="135.3" y2="581.5" stroke="#333" stroke-width="1.3"/>
<line x1="127.30000000000001" y1="581.5" x2="325" y2="581.5" stroke="#333" stroke-width="1.3"/>
<line x1="127.30000000000001" y1="581.5" x2="135.3" y2="581.5" stroke="#333" stroke-width="1.3"/>
<text x="125.30000000000001" y="586.3" font-size="13.5" text-anchor="end" fill="#222">0</text>
<line x1="127.30000000000001" y1="535.72" x2="135.3" y2="535.72" stroke="#333" stroke-width="1.3"/>
<text x="125.30000000000001" y="540.52" font-size="13.5" text-anchor="end" fill="#222">20</text>
<line x1="127.30000000000001" y1="489.94" x2="135.3" y2="489.94" stroke="#333" stroke-width="1.3"/>
<text x="125.30000000000001" y="494.74" font-size="13.5" text-anchor="end" fill="#222">40</text>
<line x1="127.30000000000001" y1="444.15999999999997" x2="135.3" y2="444.15999999999997" stroke="#333" stroke-width="1.3"/>
<text x="125.30000000000001" y="448.96" font-size="13.5" text-anchor="end" fill="#222">60</text>
<line x1="127.30000000000001" y1="398.38" x2="135.3" y2="398.38" stroke="#333" stroke-width="1.3"/>
<text x="125.30000000000001" y="403.18" font-size="13.5" text-anchor="end" fill="#222">80</text>
<line x1="127.30000000000001" y1="352.6" x2="135.3" y2="352.6" stroke="#333" stroke-width="1.3"/>
<text x="125.30000000000001" y="357.40000000000003" font-size="13.5" text-anchor="end" fill="#222">100</text>
<line x1="155" y1="330.2" x2="302.6" y2="330.2" stroke="#444" stroke-width="1.1"/>
<text x="229" y="332.0" font-size="13.7" font-weight="bold" text-anchor="middle" fill="#5a5a5a">****</text>
<line x1="155" y1="341.3" x2="244.8" y2="341.3" stroke="#444" stroke-width="1.1"/>
<text x="199.6" y="343.1" font-size="13.7" font-weight="bold" text-anchor="middle" fill="#5a5a5a">*</text>
<line x1="212.8" y1="352.3" x2="302.6" y2="352.3" stroke="#444" stroke-width="1.1"/>
<text x="258" y="354.1" font-size="13.7" font-weight="bold" text-anchor="middle" fill="#5a5a5a">***</text>
<text transform="translate(90.9,467.5) rotate(-90)" font-size="22.6" text-anchor="middle" fill="#111">% of gated EV subsets</text>
<text transform="translate(181.0,608.2) rotate(-45)" font-size="23.2" text-anchor="end" fill="#111">LEV</text>
<text transform="translate(237.95,608.2) rotate(-45)" font-size="23.2" text-anchor="end" fill="#111">MEV</text>
<text transform="translate(294.6,608.2) rotate(-45)" font-size="23.2" text-anchor="end" fill="#111">SEV</text>
<rect x="454.3" y="416.8" width="37.099999999999966" height="164.99999999999994" fill="#e6e6e6" stroke="#333" stroke-width="1.3"/>
<rect x="511.4" y="473.2" width="36.80000000000007" height="108.59999999999997" fill="#e6e6e6" stroke="#333" stroke-width="1.3"/>
<rect x="568.3" y="504.5" width="37.0" height="77.29999999999995" fill="#e6e6e6" stroke="#333" stroke-width="1.3"/>
<line x1="435.2" y1="352.5999999999999" x2="435.2" y2="581.8" stroke="#333" stroke-width="1.3"/>
<line x1="427.2" y1="581.8" x2="624.8" y2="581.8" stroke="#333" stroke-width="1.3"/>
<line x1="427.2" y1="581.8" x2="435.2" y2="581.8" stroke="#333" stroke-width="1.3"/>
<text x="425.2" y="586.5999999999999" font-size="13.5" text-anchor="end" fill="#222">100</text>
<line x1="427.2" y1="505.4" x2="435.2" y2="505.4" stroke="#333" stroke-width="1.3"/>
<text x="425.2" y="510.2" font-size="13.5" text-anchor="end" fill="#222">1000</text>
<line x1="427.2" y1="428.99999999999994" x2="435.2" y2="428.99999999999994" stroke="#333" stroke-width="1.3"/>
<text x="425.2" y="433.79999999999995" font-size="13.5" text-anchor="end" fill="#222">10000</text>
<line x1="427.2" y1="352.5999999999999" x2="435.2" y2="352.5999999999999" stroke="#333" stroke-width="1.3"/>
<text x="425.2" y="357.3999999999999" font-size="13.5" text-anchor="end" fill="#222">100000</text>
<line x1="453.1" y1="365.2" x2="600.8" y2="365.2" stroke="#444" stroke-width="1.1"/>
<text x="526.7" y="367.0" font-size="13.7" font-weight="bold" text-anchor="middle" fill="#5a5a5a">****</text>
<line x1="453.1" y1="376.2" x2="542.5" y2="376.2" stroke="#444" stroke-width="1.1"/>
<text x="497.8" y="378.0" font-size="13.7" font-weight="bold" text-anchor="middle" fill="#5a5a5a">*</text>
<line x1="510.9" y1="387.3" x2="600.8" y2="387.3" stroke="#444" stroke-width="1.1"/>
<text x="555.6" y="389.1" font-size="13.7" font-weight="bold" text-anchor="middle" fill="#5a5a5a">***</text>
<text transform="translate(368.9,468.2) rotate(-90)" font-size="23.2" text-anchor="middle" fill="#111">MFI</text>
<text transform="translate(480.85,608.2) rotate(-45)" font-size="23.2" text-anchor="end" fill="#111">LEV</text>
<text transform="translate(537.8,608.2) rotate(-45)" font-size="23.2" text-anchor="end" fill="#111">MEV</text>
<text transform="translate(594.8,608.2) rotate(-45)" font-size="23.2" text-anchor="end" fill="#111">SEV</text>
<circle cx="157.2" cy="351.9" r="3.3" fill="none" stroke="#008000" stroke-width="1.1"/>
<circle cx="166" cy="352" r="3.3" fill="none" stroke="#008000" stroke-width="1.1"/>
<circle cx="168.5" cy="351.5" r="3.3" fill="none" stroke="#008000" stroke-width="1.1"/>
<circle cx="171" cy="352" r="3.3" fill="none" stroke="#008000" stroke-width="1.1"/>
<circle cx="173.5" cy="351.5" r="3.3" fill="none" stroke="#008000" stroke-width="1.1"/>
<circle cx="176" cy="352" r="3.3" fill="none" stroke="#008000" stroke-width="1.1"/>
<circle cx="178.5" cy="351.5" r="3.3" fill="none" stroke="#008000" stroke-width="1.1"/>
<circle cx="181" cy="352" r="3.3" fill="none" stroke="#008000" stroke-width="1.1"/>
<circle cx="188.8" cy="353.2" r="3.3" fill="none" stroke="#008000" stroke-width="1.1"/>
<circle cx="160.5" cy="353.4" r="3.3" fill="none" stroke="#008000" stroke-width="1.1"/>
<circle cx="163.1" cy="353.6" r="3.3" fill="none" stroke="#008000" stroke-width="1.1"/>
<circle cx="167" cy="354.5" r="3.3" fill="none" stroke="#008000" stroke-width="1.1"/>
<circle cx="170" cy="354.8" r="3.3" fill="none" stroke="#008000" stroke-width="1.1"/>
<circle cx="173" cy="354.5" r="3.3" fill="none" stroke="#008000" stroke-width="1.1"/>
<circle cx="176" cy="354.8" r="3.3" fill="none" stroke="#008000" stroke-width="1.1"/>
<circle cx="179" cy="354.5" r="3.3" fill="none" stroke="#008000" stroke-width="1.1"/>
<circle cx="182.9" cy="353.6" r="3.3" fill="none" stroke="#008000" stroke-width="1.1"/>
<circle cx="185.5" cy="354.9" r="3.3" fill="none" stroke="#008000" stroke-width="1.1"/>
<circle cx="186.8" cy="356.2" r="3.3" fill="none" stroke="#008000" stroke-width="1.1"/>
<circle cx="184.2" cy="357.4" r="3.3" fill="none" stroke="#008000" stroke-width="1.1"/>
<circle cx="159.2" cy="359.5" r="3.3" fill="none" stroke="#008000" stroke-width="1.1"/>
<circle cx="163.1" cy="360.4" r="3.3" fill="none" stroke="#008000" stroke-width="1.1"/>
<circle cx="168.4" cy="360.1" r="3.3" fill="none" stroke="#008000" stroke-width="1.1"/>
<circle cx="171.7" cy="360.8" r="3.3" fill="none" stroke="#008000" stroke-width="1.1"/>
<circle cx="175" cy="360.8" r="3.3" fill="none" stroke="#008000" stroke-width="1.1"/>
<circle cx="177.6" cy="360.4" r="3.3" fill="none" stroke="#008000" stroke-width="1.1"/>
<circle cx="169.1" cy="366.7" r="3.3" fill="none" stroke="#008000" stroke-width="1.1"/>
<circle cx="176.9" cy="368.7" r="3.3" fill="none" stroke="#008000" stroke-width="1.1"/>
<circle cx="173" cy="366" r="3.3" fill="none" stroke="#008000" stroke-width="1.1"/>
<circle cx="167.5" cy="353" r="3.3" fill="none" stroke="#008000" stroke-width="1.1"/>
<circle cx="170" cy="353.2" r="3.3" fill="none" stroke="#008000" stroke-width="1.1"/>
<circle cx="172.5" cy="353" r="3.3" fill="none" stroke="#008000" stroke-width="1.1"/>
<circle cx="175" cy="353.2" r="3.3" fill="none" stroke="#008000" stroke-width="1.1"/>
<circle cx="177.5" cy="353" r="3.3" fill="none" stroke="#008000" stroke-width="1.1"/>
<circle cx="180" cy="353.2" r="3.3" fill="none" stroke="#008000" stroke-width="1.1"/>
<circle cx="168.5" cy="356" r="3.3" fill="none" stroke="#008000" stroke-width="1.1"/>
<circle cx="171.5" cy="356.3" r="3.3" fill="none" stroke="#008000" stroke-width="1.1"/>
<circle cx="174.5" cy="356" r="3.3" fill="none" stroke="#008000" stroke-width="1.1"/>
<circle cx="177.5" cy="356.3" r="3.3" fill="none" stroke="#008000" stroke-width="1.1"/>
<circle cx="180.5" cy="356" r="3.3" fill="none" stroke="#008000" stroke-width="1.1"/>
<rect x="229.9" y="353.7" width="7.4" height="7.4" fill="none" stroke="#ff8000" stroke-width="1.1"/>
<rect x="222.4" y="355.0" width="7.4" height="7.4" fill="none" stroke="#ff8000" stroke-width="1.1"/>
<rect x="237.4" y="356.3" width="7.4" height="7.4" fill="none" stroke="#ff8000" stroke-width="1.1"/>
<rect x="214.3" y="358.1" width="7.4" height="7.4" fill="none" stroke="#ff8000" stroke-width="1.1"/>
<rect x="218.7" y="358.1" width="7.4" height="7.4" fill="none" stroke="#ff8000" stroke-width="1.1"/>
<rect x="229.3" y="361.2" width="7.4" height="7.4" fill="none" stroke="#ff8000" stroke-width="1.1"/>
<rect x="236.1" y="361.2" width="7.4" height="7.4" fill="none" stroke="#ff8000" stroke-width="1.1"/>
<rect x="224.9" y="363.7" width="7.4" height="7.4" fill="none" stroke="#ff8000" stroke-width="1.1"/>
<rect x="210.6" y="366.8" width="7.4" height="7.4" fill="none" stroke="#ff8000" stroke-width="1.1"/>
<rect x="219.3" y="366.3" width="7.4" height="7.4" fill="none" stroke="#ff8000" stroke-width="1.1"/>
<rect x="227.4" y="366.3" width="7.4" height="7.4" fill="none" stroke="#ff8000" stroke-width="1.1"/>
<rect x="232.4" y="365.0" width="7.4" height="7.4" fill="none" stroke="#ff8000" stroke-width="1.1"/>
<rect x="238.0" y="364.3" width="7.4" height="7.4" fill="none" stroke="#ff8000" stroke-width="1.1"/>
<rect x="241.1" y="371.8" width="7.4" height="7.4" fill="none" stroke="#ff8000" stroke-width="1.1"/>
<rect x="231.2" y="371.2" width="7.4" height="7.4" fill="none" stroke="#ff8000" stroke-width="1.1"/>
<rect x="223.7" y="371.2" width="7.4" height="7.4" fill="none" stroke="#ff8000" stroke-width="1.1"/>
<rect x="211.3" y="376.2" width="7.4" height="7.4" fill="none" stroke="#ff8000" stroke-width="1.1"/>
<rect x="215.6" y="378.6" width="7.4" height="7.4" fill="none" stroke="#ff8000" stroke-width="1.1"/>
<rect x="221.8" y="378.6" width="7.4" height="7.4" fill="none" stroke="#ff8000" stroke-width="1.1"/>
<rect x="227.4" y="377.4" width="7.4" height="7.4" fill="none" stroke="#ff8000" stroke-width="1.1"/>
<rect x="233.6" y="378.6" width="7.4" height="7.4" fill="none" stroke="#ff8000" stroke-width="1.1"/>
<rect x="238.6" y="377.4" width="7.4" height="7.4" fill="none" stroke="#ff8000" stroke-width="1.1"/>
<rect x="221.2" y="386.1" width="7.4" height="7.4" fill="none" stroke="#ff8000" stroke-width="1.1"/>
<rect x="226.2" y="389.2" width="7.4" height="7.4" fill="none" stroke="#ff8000" stroke-width="1.1"/>
<rect x="229.9" y="382.4" width="7.4" height="7.4" fill="none" stroke="#ff8000" stroke-width="1.1"/>
<rect x="222.4" y="411.6" width="7.4" height="7.4" fill="none" stroke="#ff8000" stroke-width="1.1"/>
<rect x="230.2" y="411.6" width="7.4" height="7.4" fill="none" stroke="#ff8000" stroke-width="1.1"/>
<path d="M275.2,422.5 L279.2,429.7 L271.2,429.7 Z" fill="none" stroke="#0a7cff" stroke-width="1.1"/>
<path d="M282.8,427.6 L286.8,434.8 L278.8,434.8 Z" fill="none" stroke="#0a7cff" stroke-width="1.1"/>
<path d="M286.8,426.6 L290.8,433.8 L282.8,433.8 Z" fill="none" stroke="#0a7cff" stroke-width="1.1"/>
<path d="M290.4,425.6 L294.4,432.8 L286.4,432.8 Z" fill="none" stroke="#0a7cff" stroke-width="1.1"/>
<path d="M294.4,426.1 L298.4,433.3 L290.4,433.3 Z" fill="none" stroke="#0a7cff" stroke-width="1.1"/>
<path d="M298.0,423.6 L302.0,430.8 L294.0,430.8 Z" fill="none" stroke="#0a7cff" stroke-width="1.1"/>
<path d="M278.7,432.2 L282.7,439.4 L274.7,439.4 Z" fill="none" stroke="#0a7cff" stroke-width="1.1"/>
<path d="M293.9,435.2 L297.9,442.4 L289.9,442.4 Z" fill="none" stroke="#0a7cff" stroke-width="1.1"/>
<path d="M278.2,439.8 L282.2,447.0 L274.2,447.0 Z" fill="none" stroke="#0a7cff" stroke-width="1.1"/>
<path d="M274.7,441.8 L278.7,449.0 L270.7,449.0 Z" fill="none" stroke="#0a7cff" stroke-width="1.1"/>
<path d="M281.8,441.8 L285.8,449.0 L277.8,449.0 Z" fill="none" stroke="#0a7cff" stroke-width="1.1"/>
<path d="M297.5,441.8 L301.5,449.0 L293.5,449.0 Z" fill="none" stroke="#0a7cff" stroke-width="1.1"/>
<path d="M290.4,444.3 L294.4,451.5 L286.4,451.5 Z" fill="none" stroke="#0a7cff" stroke-width="1.1"/>
<path d="M301.5,448.4 L305.5,455.6 L297.5,455.6 Z" fill="none" stroke="#0a7cff" stroke-width="1.1"/>
<path d="M272.2,452.9 L276.2,460.1 L268.2,460.1 Z" fill="none" stroke="#0a7cff" stroke-width="1.1"/>
<path d="M276.2,451.9 L280.2,459.1 L272.2,459.1 Z" fill="none" stroke="#0a7cff" stroke-width="1.1"/>
<path d="M283.3,449.9 L287.3,457.1 L279.3,457.1 Z" fill="none" stroke="#0a7cff" stroke-width="1.1"/>
<path d="M287.3,450.4 L291.3,457.6 L283.3,457.6 Z" fill="none" stroke="#0a7cff" stroke-width="1.1"/>
<path d="M292.4,451.4 L296.4,458.6 L288.4,458.6 Z" fill="none" stroke="#0a7cff" stroke-width="1.1"/>
<path d="M298.5,450.4 L302.5,457.6 L294.5,457.6 Z" fill="none" stroke="#0a7cff" stroke-width="1.1"/>
<path d="M275.2,460.0 L279.2,467.2 L271.2,467.2 Z" fill="none" stroke="#0a7cff" stroke-width="1.1"/>
<path d="M282.8,459.5 L286.8,466.7 L278.8,466.7 Z" fill="none" stroke="#0a7cff" stroke-width="1.1"/>
<path d="M290.4,459.0 L294.4,466.2 L286.4,466.2 Z" fill="none" stroke="#0a7cff" stroke-width="1.1"/>
<path d="M297.5,461.5 L301.5,468.7 L293.5,468.7 Z" fill="none" stroke="#0a7cff" stroke-width="1.1"/>
<path d="M289.9,465.6 L293.9,472.8 L285.9,472.8 Z" fill="none" stroke="#0a7cff" stroke-width="1.1"/>
<path d="M270.1,453.9 L274.1,461.1 L266.1,461.1 Z" fill="none" stroke="#0a7cff" stroke-width="1.1"/>
<path d="M286.3,455.0 L290.3,462.2 L282.3,462.2 Z" fill="none" stroke="#0a7cff" stroke-width="1.1"/>
<circle cx="476.7" cy="387.4" r="3.9" fill="none" stroke="#008000" stroke-width="1.1"/>
<circle cx="465.9" cy="396.1" r="3.9" fill="none" stroke="#008000" stroke-width="1.1"/>
<circle cx="470.1" cy="394.7" r="3.9" fill="none" stroke="#008000" stroke-width="1.1"/>
<circle cx="473.6" cy="393.3" r="3.9" fill="none" stroke="#008000" stroke-width="1.1"/>
<circle cx="476.7" cy="399.6" r="3.9" fill="none" stroke="#008000" stroke-width="1.1"/>
<circle cx="472.9" cy="402.4" r="3.9" fill="none" stroke="#008000" stroke-width="1.1"/>
<circle cx="487.7" cy="408.7" r="3.9" fill="none" stroke="#008000" stroke-width="1.1"/>
<circle cx="457.2" cy="416.4" r="3.9" fill="none" stroke="#008000" stroke-width="1.1"/>
<circle cx="461.8" cy="415.4" r="3.9" fill="none" stroke="#008000" stroke-width="1.1"/>
<circle cx="469.3" cy="415.4" r="3.9" fill="none" stroke="#008000" stroke-width="1.1"/>
<circle cx="473.1" cy="415" r="3.9" fill="none" stroke="#008000" stroke-width="1.1"/>
<circle cx="476.8" cy="415.9" r="3.9" fill="none" stroke="#008000" stroke-width="1.1"/>
<circle cx="484.3" cy="416.4" r="3.9" fill="none" stroke="#008000" stroke-width="1.1"/>
<circle cx="465.1" cy="421" r="3.9" fill="none" stroke="#008000" stroke-width="1.1"/>
<circle cx="480.5" cy="422.5" r="3.9" fill="none" stroke="#008000" stroke-width="1.1"/>
<circle cx="488" cy="421.5" r="3.9" fill="none" stroke="#008000" stroke-width="1.1"/>
<circle cx="461.4" cy="430.4" r="3.9" fill="none" stroke="#008000" stroke-width="1.1"/>
<circle cx="458.1" cy="433.7" r="3.9" fill="none" stroke="#008000" stroke-width="1.1"/>
<circle cx="469.3" cy="429.9" r="3.9" fill="none" stroke="#008000" stroke-width="1.1"/>
<circle cx="472.6" cy="429.9" r="3.9" fill="none" stroke="#008000" stroke-width="1.1"/>
<circle cx="480.5" cy="431.8" r="3.9" fill="none" stroke="#008000" stroke-width="1.1"/>
<circle cx="487.6" cy="429.9" r="3.9" fill="none" stroke="#008000" stroke-width="1.1"/>
<circle cx="465.1" cy="437.4" r="3.9" fill="none" stroke="#008000" stroke-width="1.1"/>
<circle cx="476.8" cy="437.9" r="3.9" fill="none" stroke="#008000" stroke-width="1.1"/>
<circle cx="473.1" cy="442.1" r="3.9" fill="none" stroke="#008000" stroke-width="1.1"/>
<circle cx="476.8" cy="448.2" r="3.9" fill="none" stroke="#008000" stroke-width="1.1"/>
<circle cx="469.3" cy="453.3" r="3.9" fill="none" stroke="#008000" stroke-width="1.1"/>
<rect x="524.1" y="451.1" width="7.8" height="7.8" fill="none" stroke="#ff8000" stroke-width="1.1"/>
<rect x="527.9" y="451.1" width="7.8" height="7.8" fill="none" stroke="#ff8000" stroke-width="1.1"/>
<rect x="526.0" y="453.4" width="7.8" height="7.8" fill="none" stroke="#ff8000" stroke-width="1.1"/>
<rect x="520.4" y="461.8" width="7.8" height="7.8" fill="none" stroke="#ff8000" stroke-width="1.1"/>
<rect x="525.1" y="461.3" width="7.8" height="7.8" fill="none" stroke="#ff8000" stroke-width="1.1"/>
<rect x="529.7" y="462.3" width="7.8" height="7.8" fill="none" stroke="#ff8000" stroke-width="1.1"/>
<rect x="534.4" y="461.8" width="7.8" height="7.8" fill="none" stroke="#ff8000" stroke-width="1.1"/>
<rect x="517.6" y="464.1" width="7.8" height="7.8" fill="none" stroke="#ff8000" stroke-width="1.1"/>
<rect x="541.0" y="467.9" width="7.8" height="7.8" fill="none" stroke="#ff8000" stroke-width="1.1"/>
<rect x="514.8" y="467.9" width="7.8" height="7.8" fill="none" stroke="#ff8000" stroke-width="1.1"/>
<rect x="510.1" y="472.1" width="7.8" height="7.8" fill="none" stroke="#ff8000" stroke-width="1.1"/>
<rect x="519.5" y="471.6" width="7.8" height="7.8" fill="none" stroke="#ff8000" stroke-width="1.1"/>
<rect x="526.0" y="470.7" width="7.8" height="7.8" fill="none" stroke="#ff8000" stroke-width="1.1"/>
<rect x="533.5" y="471.6" width="7.8" height="7.8" fill="none" stroke="#ff8000" stroke-width="1.1"/>
<rect x="538.1" y="472.5" width="7.8" height="7.8" fill="none" stroke="#ff8000" stroke-width="1.1"/>
<rect x="512.9" y="479.1" width="7.8" height="7.8" fill="none" stroke="#ff8000" stroke-width="1.1"/>
<rect x="518.5" y="477.2" width="7.8" height="7.8" fill="none" stroke="#ff8000" stroke-width="1.1"/>
<rect x="525.1" y="475.4" width="7.8" height="7.8" fill="none" stroke="#ff8000" stroke-width="1.1"/>
<rect x="532.5" y="479.1" width="7.8" height="7.8" fill="none" stroke="#ff8000" stroke-width="1.1"/>
<rect x="539.1" y="481.9" width="7.8" height="7.8" fill="none" stroke="#ff8000" stroke-width="1.1"/>
<rect x="525.5" y="483.8" width="7.8" height="7.8" fill="none" stroke="#ff8000" stroke-width="1.1"/>
<rect x="535.4" y="475.4" width="7.8" height="7.8" fill="none" stroke="#ff8000" stroke-width="1.1"/>
<path d="M573.0,497.9 L577.0,505.1 L569.0,505.1 Z" fill="none" stroke="#0a7cff" stroke-width="1.1"/>
<path d="M580.8,495.4 L584.8,502.6 L576.8,502.6 Z" fill="none" stroke="#0a7cff" stroke-width="1.1"/>
<path d="M585.0,496.9 L589.0,504.1 L581.0,504.1 Z" fill="none" stroke="#0a7cff" stroke-width="1.1"/>
<path d="M589.0,496.9 L593.0,504.1 L585.0,504.1 Z" fill="none" stroke="#0a7cff" stroke-width="1.1"/>
<path d="M597.0,497.9 L601.0,505.1 L593.0,505.1 Z" fill="none" stroke="#0a7cff" stroke-width="1.1"/>
<path d="M601.0,497.9 L605.0,505.1 L597.0,505.1 Z" fill="none" stroke="#0a7cff" stroke-width="1.1"/>
<path d="M570.5,501.4 L574.5,508.6 L566.5,508.6 Z" fill="none" stroke="#0a7cff" stroke-width="1.1"/>
<path d="M575.0,500.9 L579.0,508.1 L571.0,508.1 Z" fill="none" stroke="#0a7cff" stroke-width="1.1"/>
<path d="M579.0,500.4 L583.0,507.6 L575.0,507.6 Z" fill="none" stroke="#0a7cff" stroke-width="1.1"/>
<path d="M583.0,500.4 L587.0,507.6 L579.0,507.6 Z" fill="none" stroke="#0a7cff" stroke-width="1.1"/>
<path d="M587.0,500.4 L591.0,507.6 L583.0,507.6 Z" fill="none" stroke="#0a7cff" stroke-width="1.1"/>
<path d="M591.0,500.4 L595.0,507.6 L587.0,507.6 Z" fill="none" stroke="#0a7cff" stroke-width="1.1"/>
<path d="M595.0,500.4 L599.0,507.6 L591.0,507.6 Z" fill="none" stroke="#0a7cff" stroke-width="1.1"/>
<path d="M599.0,500.9 L603.0,508.1 L595.0,508.1 Z" fill="none" stroke="#0a7cff" stroke-width="1.1"/>
<path d="M603.0,501.4 L607.0,508.6 L599.0,508.6 Z" fill="none" stroke="#0a7cff" stroke-width="1.1"/>
<path d="M573.0,503.4 L577.0,510.6 L569.0,510.6 Z" fill="none" stroke="#0a7cff" stroke-width="1.1"/>
<path d="M578.0,503.4 L582.0,510.6 L574.0,510.6 Z" fill="none" stroke="#0a7cff" stroke-width="1.1"/>
<path d="M583.0,503.4 L587.0,510.6 L579.0,510.6 Z" fill="none" stroke="#0a7cff" stroke-width="1.1"/>
<path d="M588.0,503.4 L592.0,510.6 L584.0,510.6 Z" fill="none" stroke="#0a7cff" stroke-width="1.1"/>
<path d="M593.0,503.4 L597.0,510.6 L589.0,510.6 Z" fill="none" stroke="#0a7cff" stroke-width="1.1"/>
<path d="M598.0,503.4 L602.0,510.6 L594.0,510.6 Z" fill="none" stroke="#0a7cff" stroke-width="1.1"/>
<path d="M602.0,503.4 L606.0,510.6 L598.0,510.6 Z" fill="none" stroke="#0a7cff" stroke-width="1.1"/>
<path d="M577.5,507.4 L581.5,514.6 L573.5,514.6 Z" fill="none" stroke="#0a7cff" stroke-width="1.1"/>
<path d="M596.5,507.4 L600.5,514.6 L592.5,514.6 Z" fill="none" stroke="#0a7cff" stroke-width="1.1"/>
</svg>
</body></html>
